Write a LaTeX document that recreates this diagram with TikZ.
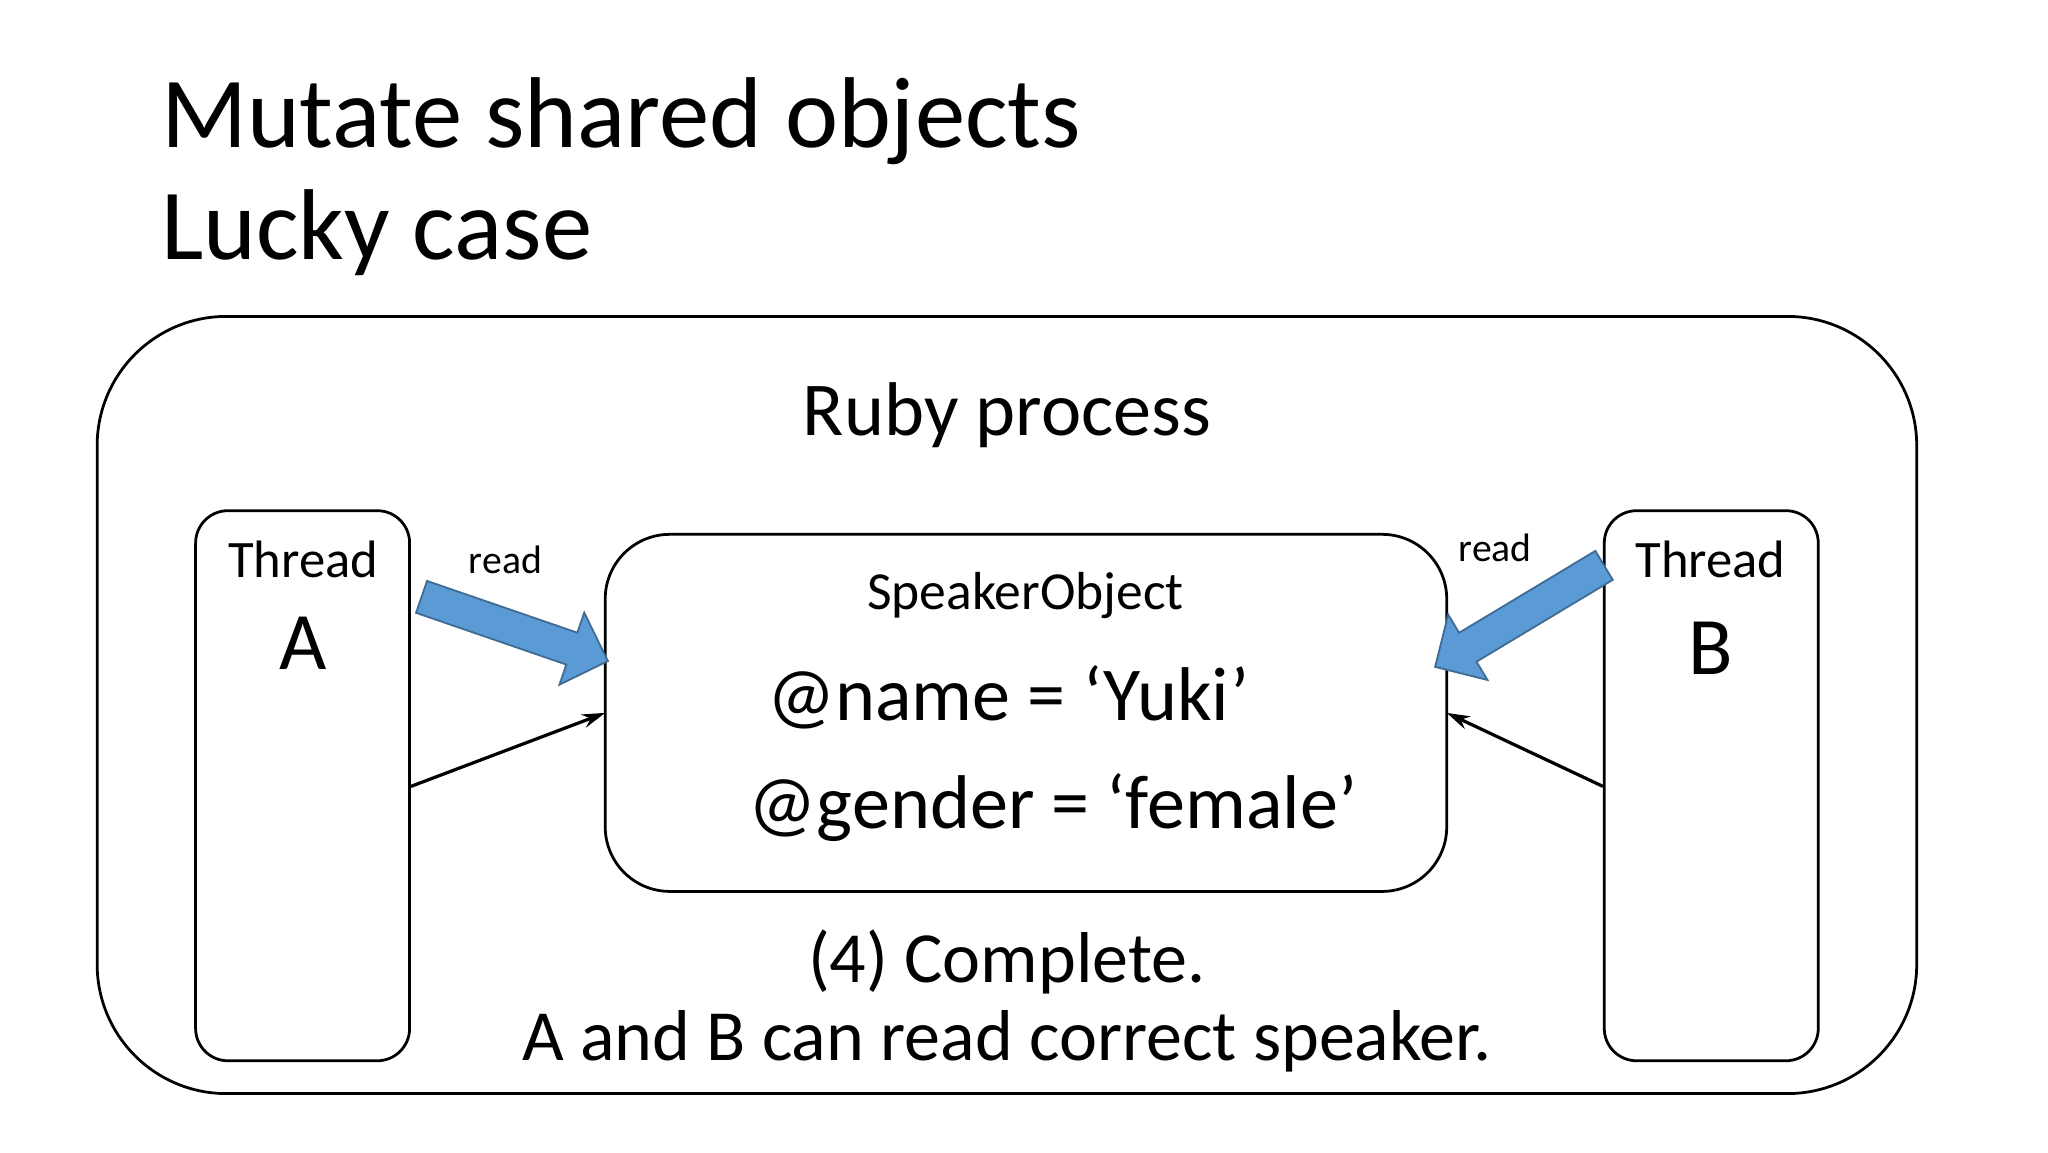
\documentclass[tikz,border=0pt]{standalone}
\usepackage{fontspec}
\setmainfont{Carlito}
\usetikzlibrary{shapes.arrows,arrows.meta}
\begin{document}
\begin{tikzpicture}[x=0.01cm,y=-0.01cm,
  box/.style={draw,line width=0.6pt,rounded corners=#1},
  fat/.style={single arrow,fill=myblue,draw=myblue!70!black,line width=0.4pt,minimum width=0.58cm,single arrow head extend=0.16cm,minimum height=1.5cm,inner sep=0.12cm,anchor=center},
  thin/.style={-{Stealth[length=5pt,width=3pt]},line width=0.7pt},
  every node/.style={inner sep=0pt}]
\definecolor{myblue}{RGB}{91,155,213}
\useasboundingbox (0,0) rectangle (1560,878);
\node[anchor=base west,font=\fontsize{21.8}{26}\selectfont] (t1) at (122,112) {Mutate shared objects};
\node[anchor=base west,font=\fontsize{21.8}{26}\selectfont] (t2) at (122,198) {Lucky case};
\draw[box=28pt] (74,241) rectangle (1460,833);
\node[anchor=base,font=\fontsize{16.5}{20}\selectfont] (rp) at (767,332) {Ruby process};
\draw[box=7pt] (149,389) rectangle (312,808);
\draw[box=7pt] (1222,389) rectangle (1385,808);
\draw[box=14pt] (461,407) rectangle (1102,679);
\node[anchor=base,font=\fontsize{11.4}{14}\selectfont] (ta) at (231,440) {Thread};
\node[anchor=base,font=\fontsize{17.7}{21}\selectfont] (a) at (231,510) {A};
\node[anchor=base,font=\fontsize{11.4}{14}\selectfont] (tb) at (1303,440) {Thread};
\node[anchor=base,font=\fontsize{17.7}{21}\selectfont] (b) at (1303,514) {B};
\node[anchor=base,font=\fontsize{11.6}{14}\selectfont] (so) at (781,464) {SpeakerObject};
\node[anchor=base,font=\fontsize{16.5}{20}\selectfont] (nm) at (768,549) {@name = ‘Yuki’};
\node[anchor=base,font=\fontsize{16.5}{20}\selectfont] (gd) at (802,631) {@gender = ‘female’};
\node[anchor=base,font=\fontsize{15.6}{19}\selectfont] (c1) at (767,748) {(4) Complete.};
\node[anchor=base,font=\fontsize{15.6}{19}\selectfont] (c2) at (767,808) {A and B can read correct speaker.};
\node[anchor=base,font=\fontsize{8.6}{10}\selectfont] (r1) at (385,437) {read};
\node[anchor=base,font=\fontsize{8.6}{10}\selectfont] (r2) at (1139,428) {read};
\node[fat,rotate=-19] (fa) at (386,477) {};
\node[fat,rotate=211] (fb) at (1163,466) {};
\coordinate (a1) at (313,599); \coordinate (a2) at (461,543);
\coordinate (b1) at (1221,599); \coordinate (b2) at (1102,543);
\draw[thin] (a1) -- (a2);
\draw[thin] (b1) -- (b2);
\end{tikzpicture}
\end{document}
